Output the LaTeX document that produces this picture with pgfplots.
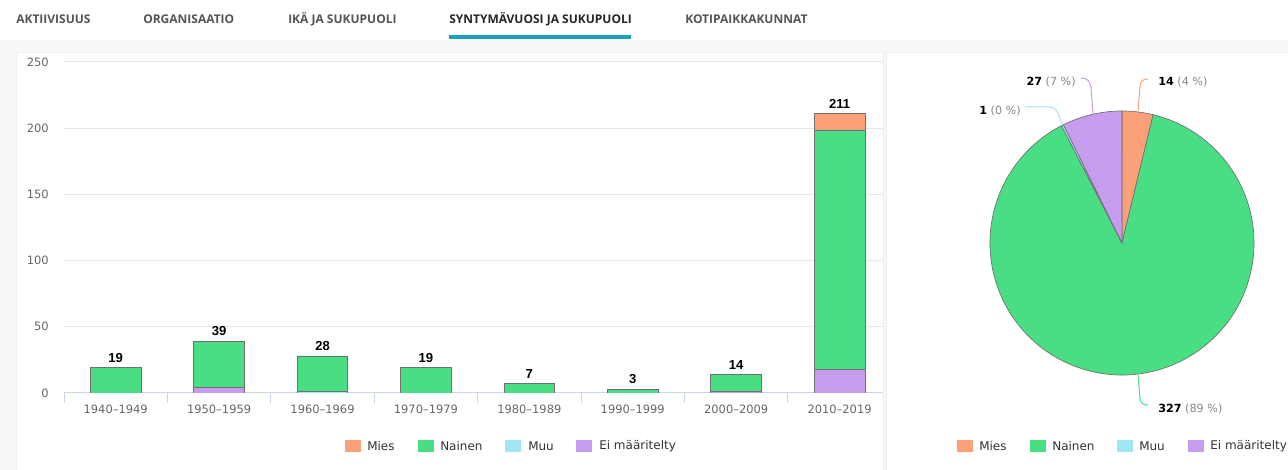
\documentclass[border=0pt]{standalone}
\usepackage{fontspec}
\usepackage{pgfplots}
\usepackage{pgfplotstable}
\pgfplotsset{compat=1.18}
\setmainfont{DejaVu Sans}
\newfontfamily\tabfont{Open Sans}
\newfontfamily\labfont{Liberation Sans}
\definecolor{cMies}{HTML}{FCA07A}
\definecolor{cNainen}{HTML}{4ADE84}
\definecolor{cMuu}{HTML}{A3E6F3}
\definecolor{cEi}{HTML}{C69CEE}
\definecolor{bggray}{HTML}{F7F7F7}
\definecolor{panelline}{HTML}{EEEEEE}
\definecolor{tabgray}{HTML}{555555}
\definecolor{tabteal}{HTML}{17A2B8}
\definecolor{gridgray}{HTML}{E6E6E6}
\definecolor{axisblue}{HTML}{CCD6EB}
\definecolor{tickgray}{HTML}{666666}
\definecolor{legtext}{HTML}{333333}
\definecolor{pctgray}{HTML}{888888}
\definecolor{barline}{HTML}{707070}

\pgfplotstableread{
x ei muu nainen mies total
0 0  0 19  0  19
1 4  0 35  0  39
2 0  1 27  0  28
3 0  0 19  0  19
4 0  0 7   0  7
5 0  0 3   0  3
6 1  0 13  0  14
7 18 0 180 13 211
}\bardata

\def\nMies{14}
\def\nNainen{327}
\def\nMuu{1}
\def\nEi{27}

\newcommand{\legitem}[4]{%
  \fill[#2] (#1,18) rectangle ++(16,12);
  \node[anchor=west, inner sep=0pt, font=\fontsize{9}{11}\selectfont, text=legtext] at (#4,24) {#3};
}

\pgfplotsset{baraxis/.style={
  at={(48pt,57.75pt)}, anchor=south west,
  scale only axis, width=614.25pt, height=248.25pt,
  xmin=-0.5, xmax=7.42, ymin=0, ymax=250,
}}

\begin{document}
\begin{tikzpicture}[x=0.75pt,y=0.75pt]
\path[use as bounding box] (0,0) rectangle (1288,470);
\fill[white] (0,0) rectangle (1288,470);
\fill[bggray] (0,0) rectangle (1288,430);
\filldraw[fill=white, draw=panelline] (16,-1) rectangle (883,418);
\filldraw[fill=white, draw=panelline] (886,-1) rectangle (1289,418);
% tabs
\begin{scope}[every node/.style={anchor=west, inner sep=0pt, font=\tabfont\bfseries\fontsize{9}{11}\selectfont, text=tabgray}]
\node at (16,451) {AKTIIVISUUS};
\node at (143,451) {ORGANISAATIO};
\node at (288,451) {IKÄ JA SUKUPUOLI};
\node[text=black!85] at (449,451) {SYNTYMÄVUOSI JA SUKUPUOLI};
\node at (685,451) {KOTIPAIKKAKUNNAT};
\end{scope}
\fill[tabteal] (449,431) rectangle (631,435);

% bar chart
\begin{axis}[
  baraxis,
  ybar stacked, bar width=0.49,
  xtick={0,...,7},
  xticklabels={1940--1949,1950--1959,1960--1969,1970--1979,1980--1989,1990--1999,2000--2009,2010--2019},
  minor xtick={-0.5,0.5,...,6.5},
  ytick={0,50,...,250},
  axis x line*=bottom, axis y line*=left,
  y axis line style={draw=none},
  x axis line style={draw=axisblue, line width=0.75pt},
  major tick length=0pt, minor tick length=7.5pt,
  tick align=outside,
  minor tick style={draw=axisblue, line width=0.75pt},
  ymajorgrids, major grid style={draw=gridgray, line width=0.75pt},
  ticklabel style={font=\fontsize{8.6}{10}\selectfont, text=tickgray},
  /pgf/number format/assume math mode=true,
  yticklabel style={anchor=east, inner sep=0pt, xshift=-11.25pt},
  xticklabel style={anchor=north, inner sep=0pt, yshift=-9pt},
  every axis plot/.append style={draw=barline, line width=0.6pt},
]
\addplot[fill=cEi] table[x=x,y=ei]{\bardata};
\addplot[fill=cMuu] table[x=x,y=muu]{\bardata};
\addplot[fill=cNainen] table[x=x,y=nainen]{\bardata};
\addplot[fill=cMies] table[x=x,y=mies]{\bardata};
\end{axis}
% totals above bars
\begin{axis}[baraxis, hide axis, clip=false, /pgf/number format/assume math mode=true]
\addplot[draw=none, mark=none, nodes near coords, point meta=explicit,
  nodes near coords style={font=\labfont\bfseries\fontsize{9.8}{11}\selectfont, text=black, anchor=south, inner sep=0pt, yshift=3.75pt}]
  table[x=x,y=total,meta=total]{\bardata};
\end{axis}

% pie chart
\pgfmathsetmacro\tot{\nMies+\nNainen+\nMuu+\nEi}
\pgfmathsetmacro\aA{90}
\pgfmathsetmacro\aB{\aA-\nMies/\tot*360}
\pgfmathsetmacro\aC{\aB-\nNainen/\tot*360}
\pgfmathsetmacro\aD{\aC-\nMuu/\tot*360}
\pgfmathsetmacro\aE{\aD-\nEi/\tot*360}
\begin{axis}[at={(841.5pt,170.25pt)}, anchor=center, scale only axis, width=198pt, height=198pt,
  hide axis, xmin=-1, xmax=1, ymin=-1, ymax=1, clip=false]
\addplot[draw=none] coordinates {(0,0)};
\filldraw[fill=cMies, draw=barline, line width=0.5pt] (axis cs:0,0) -- ++(\aA:99pt) arc[start angle=\aA, end angle=\aB, radius=99pt] -- cycle;
\filldraw[fill=cNainen, draw=barline, line width=0.5pt] (axis cs:0,0) -- ++(\aB:99pt) arc[start angle=\aB, end angle=\aC, radius=99pt] -- cycle;
\filldraw[fill=cMuu, draw=barline, line width=0.5pt] (axis cs:0,0) -- ++(\aC:99pt) arc[start angle=\aC, end angle=\aD, radius=99pt] -- cycle;
\filldraw[fill=cEi, draw=barline, line width=0.5pt] (axis cs:0,0) -- ++(\aD:99pt) arc[start angle=\aD, end angle=\aE, radius=99pt] -- cycle;
\end{axis}

% pie connectors and labels
\draw[cMies, line width=0.75pt] (1138,359) -- (1140,383) .. controls (1140.5,389) and (1143,391) .. (1148,391);
\draw[cEi, line width=0.75pt] (1093,356) -- (1091,383) .. controls (1090,389) and (1087,392) .. (1081,392);
\draw[cMuu, line width=0.75pt] (1063,345) .. controls (1058,355) and (1057,363) .. (1050,363) -- (1025,363);
\draw[cNainen, line width=0.75pt] (1138,95) -- (1140,72) .. controls (1140.5,67) and (1143,65) .. (1148,65);
\begin{scope}[every node/.style={inner sep=0pt, font=\fontsize{8.4}{10}\selectfont}]
\node[anchor=west] at (1158,388) {\textbf{14} \textcolor{pctgray}{(4 \%)}};
\node[anchor=east] at (1076,388) {\textbf{27} \textcolor{pctgray}{(7 \%)}};
\node[anchor=east] at (1021,359) {\textbf{1} \textcolor{pctgray}{(0 \%)}};
\node[anchor=west] at (1158,61) {\textbf{327} \textcolor{pctgray}{(89 \%)}};
\end{scope}

% legends
\legitem{345}{cMies}{Mies}{367}
\legitem{418}{cNainen}{Nainen}{440}
\legitem{505}{cMuu}{Muu}{528}
\legitem{576}{cEi}{Ei määritelty}{599}
\legitem{957}{cMies}{Mies}{979}
\legitem{1030}{cNainen}{Nainen}{1052}
\legitem{1117}{cMuu}{Muu}{1139}
\legitem{1188}{cEi}{Ei määritelty}{1210}
\end{tikzpicture}
\end{document}
